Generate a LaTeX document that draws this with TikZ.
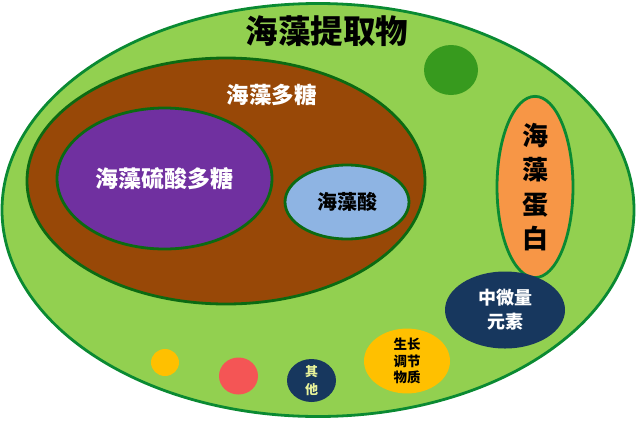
\documentclass[tikz,border=0pt]{standalone}
\usepackage{fontspec}
\setmainfont{Noto Sans CJK SC}
\usetikzlibrary{shapes.geometric}
\definecolor{lgreen}{HTML}{92D050}
\definecolor{ogreen}{HTML}{0A8A32}
\definecolor{igreen}{HTML}{0B6A12}
\definecolor{brownc}{HTML}{984807}
\definecolor{purplec}{HTML}{7030A0}
\definecolor{lbluec}{HTML}{8EB4E3}
\definecolor{orangec}{HTML}{F79646}
\definecolor{dgreenc}{HTML}{379A1E}
\definecolor{navyc}{HTML}{17375E}
\definecolor{yellowc}{HTML}{FFC000}
\definecolor{redc}{HTML}{F45555}
\definecolor{paleyel}{HTML}{E8F29A}
\tikzset{
  blob/.style={ellipse, inner sep=0pt, outer sep=0pt, align=center, font=\bfseries},
  ring/.style={line width=2.8pt},
}
\begin{document}
\begin{tikzpicture}[x=1pt,y=-1pt]
\useasboundingbox (0,0) rectangle (636,421);
% outer
\node[blob, ring, draw=ogreen, fill=lgreen, minimum width=632pt, minimum height=413pt] (outer) at (318,210) {};
\node[font=\bfseries\fontsize{32.5}{32.5}\selectfont, text=black] (title) at (327,31) {海藻提取物};
% brown
\node[blob, ring, draw=igreen, fill=brownc, minimum width=398pt, minimum height=246pt] (poly) at (226,181) {};
\node[font=\bfseries\fontsize{22.5}{22.5}\selectfont, text=white] (polyt) at (271.5,95) {海藻多糖};
% purple
\node[blob, ring, draw=igreen, fill=purplec, minimum width=215pt, minimum height=141pt, text=white, font=\bfseries\fontsize{23}{23}\selectfont] (sulf) at (164.5,178.5) {海藻硫酸多糖};
% light blue
\node[blob, ring, draw=igreen, fill=lbluec, minimum width=124pt, minimum height=74pt, text=black, font=\bfseries\fontsize{20}{20}\selectfont] (alg) at (347,202) {海藻酸};
% orange
\node[blob, ring, draw=ogreen, fill=orangec, minimum width=76pt, minimum height=161pt, text=black, font=\bfseries\fontsize{26}{34.5}\selectfont] (prot) at (535,187) {海\\藻\\蛋\\白};
% dark green circle
\node[blob, fill=dgreenc, minimum width=54pt, minimum height=50pt] (dg) at (451,70) {};
% navy
\node[blob, fill=navyc, minimum width=120pt, minimum height=77pt, text=white, font=\bfseries\fontsize{18}{24}\selectfont] (trace) at (505,310) {中微量\\元素};
% yellow growth
\node[blob, fill=yellowc, minimum width=86pt, minimum height=59pt, text=black, font=\bfseries\fontsize{13.5}{16.5}\selectfont] (grow) at (407,361) {生长\\调节\\物质};
% other
\node[blob, fill=navyc, minimum width=49pt, minimum height=43pt, text=paleyel, font=\bfseries\fontsize{13}{18}\selectfont] (other) at (311.5,380.5) {其\\他};
% red and small yellow
\node[blob, fill=redc, minimum width=39pt, minimum height=37pt] (red) at (238.5,376) {};
\node[blob, fill=yellowc, minimum width=28pt, minimum height=27pt] (sy) at (165,362.5) {};
\end{tikzpicture}
\end{document}
